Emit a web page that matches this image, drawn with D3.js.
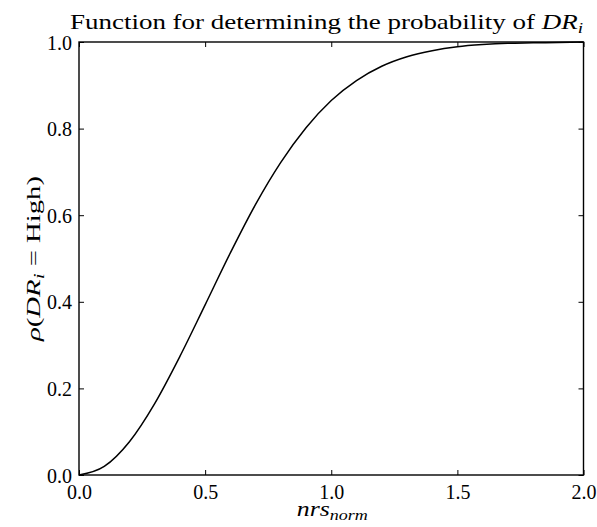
<!DOCTYPE html>
<html>
<head>
<meta charset="utf-8">
<script src="https://cdn.jsdelivr.net/npm/d3@7"></script>
<style>
  html, body { margin: 0; padding: 0; background: #fff; }
  svg { display: block; }
  text { font-family: "Liberation Serif", "DejaVu Serif", serif; fill: #000; }
</style>
</head>
<body>
<svg id="chart" width="597" height="527"></svg>
<script>
// Normalised score values and the probability
const nrsNorm = [0, 0.1, 0.2, 0.3, 0.4, 0.5, 0.6, 0.7, 0.8, 0.9, 1.0,
                 1.1, 1.2, 1.3, 1.4, 1.5, 1.6, 1.7, 1.8, 1.9, 2.0];
const probHigh = [0, 0.020, 0.077, 0.165, 0.274, 0.393, 0.513, 0.625, 0.722, 0.802, 0.865,
                  0.911, 0.944, 0.966, 0.980, 0.989, 0.994, 0.997, 0.998, 0.999, 1.0];

const xTicks = [0, 0.5, 1.0, 1.5, 2.0];
const yTicks = [0, 0.2, 0.4, 0.6, 0.8, 1.0];

const W = 597, H = 527;
const margin = { top: 42, right: 13.5, bottom: 52, left: 79 };
const innerW = W - margin.left - margin.right;
const innerH = H - margin.top - margin.bottom;
const serif = "Liberation Serif, DejaVu Serif, serif";

const svg = d3.select("#chart");
const g = svg.append("g").attr("transform", `translate(${margin.left},${margin.top})`);

const x = d3.scaleLinear().domain([0, 2]).range([0, innerW]);
const y = d3.scaleLinear().domain([0, 1]).range([innerH, 0]);

const fmt = d3.format(".1f");
const tickLen = 5;

// Curve
const line = d3.line()
  .x((d, i) => x(nrsNorm[i]))
  .y(d => y(d))
  .curve(d3.curveMonotoneX);

g.append("path")
  .datum(probHigh)
  .attr("d", line)
  .attr("fill", "none")
  .attr("stroke", "#000")
  .attr("stroke-width", 1.5);

// Axes: bottom/left carry labels, ticks point inward on all four sides
const axBottom = g.append("g").attr("transform", `translate(0,${innerH})`)
  .call(d3.axisBottom(x).tickValues(xTicks).tickFormat(fmt).tickSizeInner(-tickLen).tickSizeOuter(0).tickPadding(9));
const axTop = g.append("g")
  .call(d3.axisTop(x).tickValues(xTicks).tickFormat("").tickSizeInner(-tickLen).tickSizeOuter(0));
const axLeft = g.append("g")
  .call(d3.axisLeft(y).tickValues(yTicks).tickFormat(fmt).tickSizeInner(-tickLen).tickSizeOuter(0).tickPadding(7));
const axRight = g.append("g").attr("transform", `translate(${innerW},0)`)
  .call(d3.axisRight(y).tickValues(yTicks).tickFormat("").tickSizeInner(-tickLen).tickSizeOuter(0));

[axBottom, axTop, axLeft, axRight].forEach(a => {
  a.attr("font-family", serif).attr("font-size", 20);
  a.select(".domain").remove();
  a.selectAll(".tick line").attr("stroke", "#000").attr("stroke-width", 1);
  a.selectAll(".tick text").style("font-family", serif).style("font-size", "20px");
});
axLeft.selectAll(".tick text").attr("dy", "0.35em");
axBottom.selectAll(".tick text").attr("dy", "0.75em");

// Frame
g.append("rect")
  .attr("x", 0).attr("y", 0)
  .attr("width", innerW).attr("height", innerH)
  .attr("fill", "none")
  .attr("stroke", "#000")
  .attr("stroke-width", 1.4);

// Title
const title = svg.append("text")
  .attr("x", 326.5)
  .attr("y", 29)
  .attr("text-anchor", "middle")
  .attr("textLength", 513)
  .attr("lengthAdjust", "spacingAndGlyphs")
  .style("font-size", "21px");
title.append("tspan").text("Function for determining the probability of ");
title.append("tspan").attr("font-style", "italic").text("DR");
title.append("tspan").attr("font-style", "italic").attr("dy", 4).style("font-size", "15px").text("i");

// X axis label
const xl = svg.append("text")
  .attr("x", margin.left + innerW / 2 + 1)
  .attr("y", 516)
  .attr("text-anchor", "middle")
  .attr("textLength", 71)
  .attr("lengthAdjust", "spacingAndGlyphs")
  .style("font-size", "20px");
xl.append("tspan").attr("font-style", "italic").text("nrs");
xl.append("tspan").attr("font-style", "italic").attr("dy", 4).style("font-size", "14px").text("norm");

// Y axis label
const yl = svg.append("text")
  .attr("transform", `translate(40,${margin.top + innerH / 2}) rotate(-90)`)
  .attr("text-anchor", "middle")
  .attr("textLength", 165)
  .attr("lengthAdjust", "spacingAndGlyphs")
  .style("font-size", "19px");
yl.append("tspan").attr("font-style", "italic").text("ρ");
yl.append("tspan").text("(");
yl.append("tspan").attr("font-style", "italic").text("DR");
yl.append("tspan").attr("font-style", "italic").attr("dy", 4).style("font-size", "14px").text("i");
yl.append("tspan").attr("dy", -4).text(" =  High)");
</script>
</body>
</html>
